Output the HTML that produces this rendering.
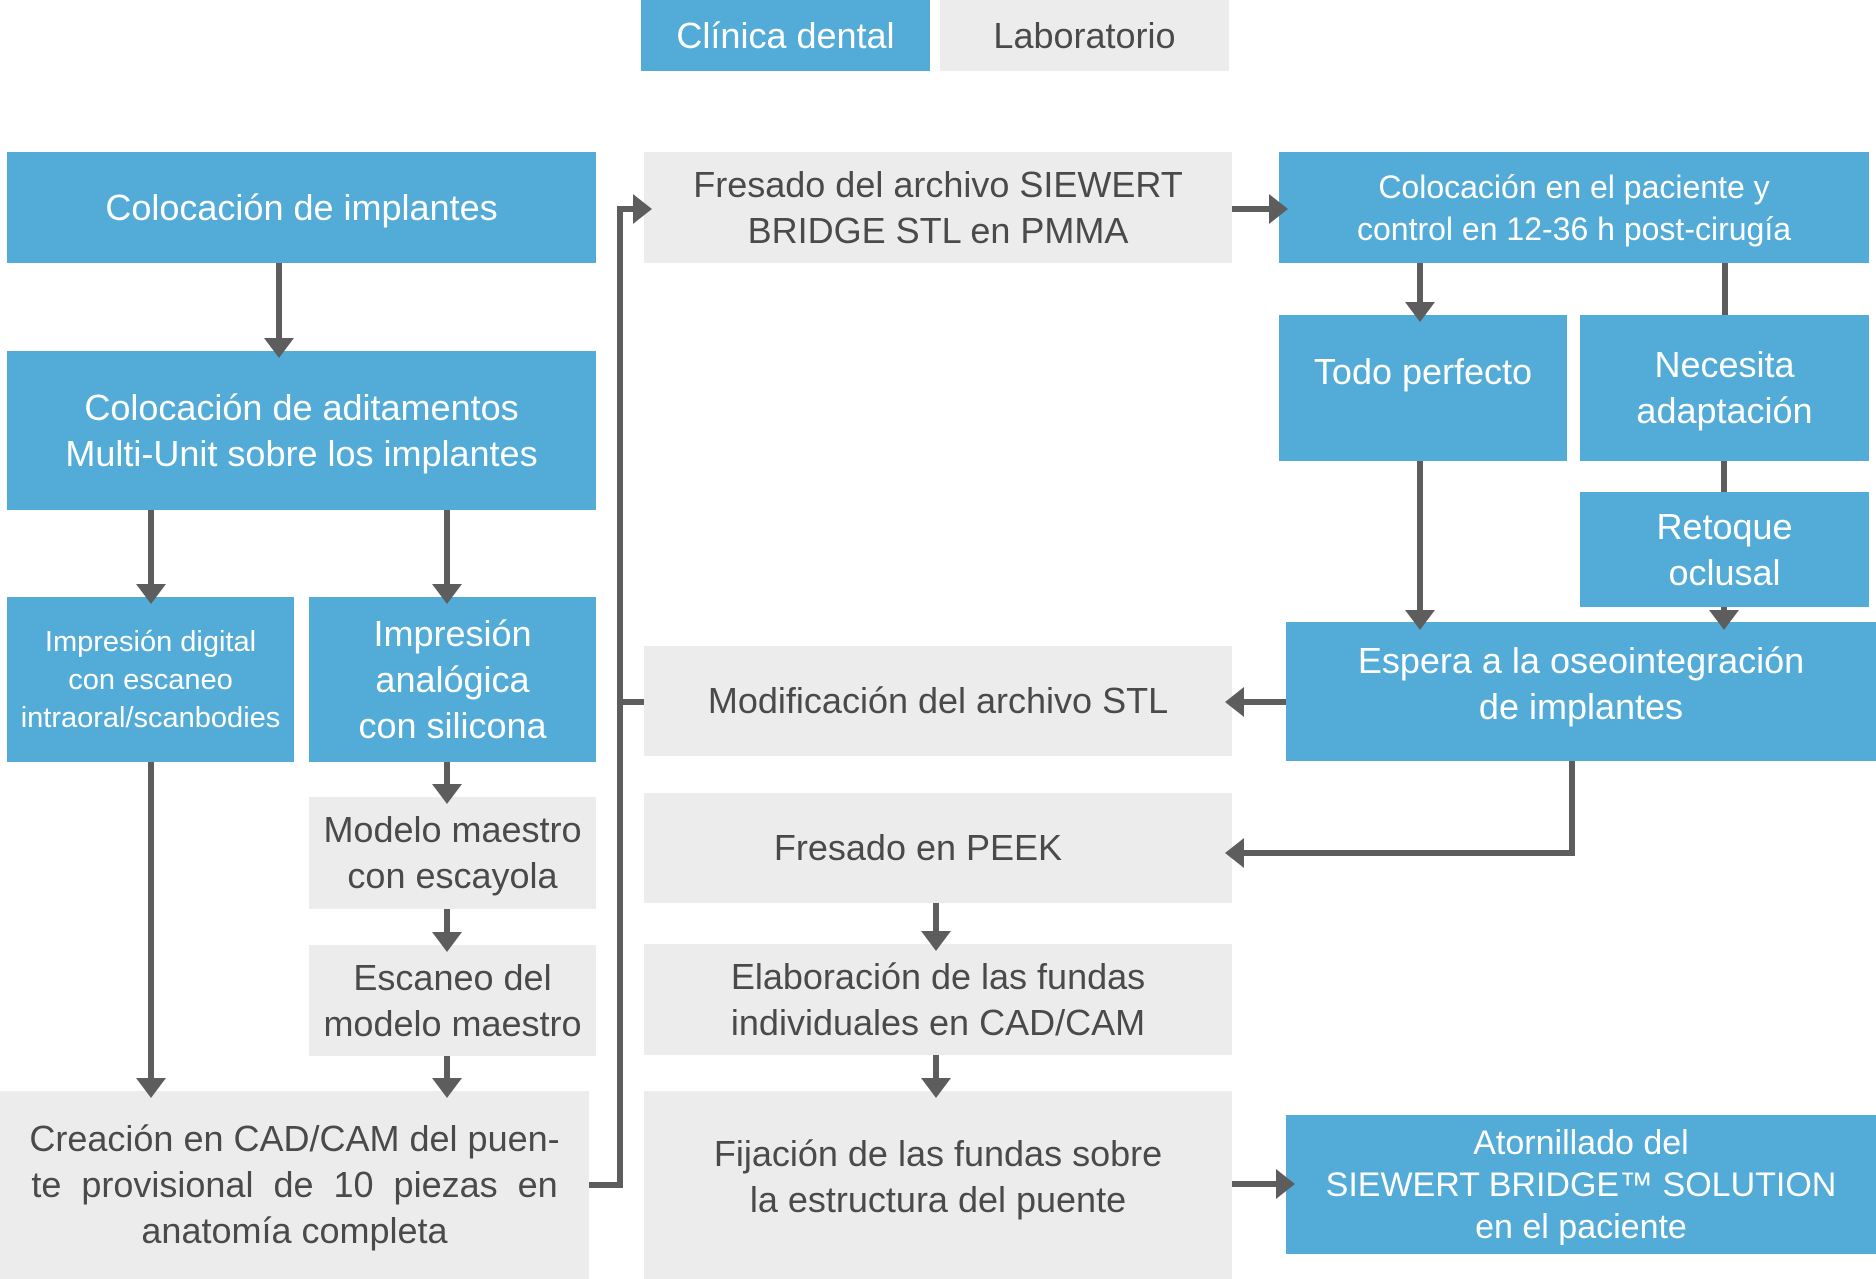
<!DOCTYPE html>
<html><head><meta charset="utf-8"><style>
body{margin:0;width:1876px;height:1279px;background:#fff;position:relative;overflow:hidden;font-family:"Liberation Sans",sans-serif}
.b{position:absolute;display:flex;align-items:center;justify-content:center;text-align:center;box-sizing:border-box;font-size:36px;line-height:46px}
.bl{background:#53abd8;color:#fff}
.g{background:#ececec;color:#4a4a4a}
svg{position:absolute;left:0;top:0}
</style></head><body>
<div class="b bl" style="left:641px;top:0;width:289px;height:71px">Clínica dental</div>
<div class="b g" style="left:940px;top:0;width:289px;height:71px">Laboratorio</div>

<div class="b bl" style="left:7px;top:152px;width:589px;height:111px">Colocación de implantes</div>
<div class="b bl" style="left:7px;top:351px;width:589px;height:159px">Colocación de aditamentos<br>Multi-Unit sobre los implantes</div>
<div class="b bl" style="left:7px;top:597px;width:287px;height:165px;font-size:29px;line-height:38px;white-space:nowrap">Impresión digital<br>con escaneo<br>intraoral/scanbodies</div>
<div class="b bl" style="left:309px;top:597px;width:287px;height:165px">Impresión<br>analógica<br>con silicona</div>
<div class="b g" style="left:309px;top:797px;width:287px;height:112px;white-space:nowrap">Modelo maestro<br>con escayola</div>
<div class="b g" style="left:309px;top:945px;width:287px;height:111px;white-space:nowrap">Escaneo del<br>modelo maestro</div>
<div class="b g" style="left:0;top:1091px;width:589px;height:188px;padding:0 12px">Creación en CAD/CAM del puen-<br>te &nbsp;provisional &nbsp;de &nbsp;10 &nbsp;piezas &nbsp;en<br>anatomía completa</div>

<div class="b g" style="left:644px;top:152px;width:588px;height:111px">Fresado del archivo SIEWERT<br>BRIDGE STL en PMMA</div>
<div class="b g" style="left:644px;top:646px;width:588px;height:110px">Modificación del archivo STL</div>
<div class="b g" style="left:644px;top:793px;width:588px;height:110px;padding-right:40px">Fresado en PEEK</div>
<div class="b g" style="left:644px;top:944px;width:588px;height:111px">Elaboración de las fundas<br>individuales en CAD/CAM</div>
<div class="b g" style="left:644px;top:1091px;width:588px;height:188px;padding-bottom:16px">Fijación de las fundas sobre<br>la estructura del puente</div>

<div class="b bl" style="left:1279px;top:152px;width:590px;height:111px;font-size:32px;line-height:42px">Colocación en el paciente y<br>control en 12-36 h post-cirugía</div>
<div class="b bl" style="left:1279px;top:315px;width:288px;height:146px;align-items:flex-start;padding-top:34px">Todo perfecto</div>
<div class="b bl" style="left:1580px;top:315px;width:289px;height:146px">Necesita<br>adaptación</div>
<div class="b bl" style="left:1580px;top:492px;width:289px;height:115px">Retoque<br>oclusal</div>
<div class="b bl" style="left:1286px;top:622px;width:590px;height:139px;align-items:flex-start;padding-top:16px">Espera a la oseointegración<br>de implantes</div>
<div class="b bl" style="left:1286px;top:1115px;width:590px;height:139px;font-size:34px;line-height:42px">Atornillado del<br>SIEWERT BRIDGE™ SOLUTION<br>en el paciente</div>

<svg width="1876" height="1279" viewBox="0 0 1876 1279">
<g stroke="#5d5d5d" stroke-width="6" fill="none">
<line x1="279" y1="263" x2="279" y2="345"/>
<line x1="151" y1="510" x2="151" y2="590"/>
<line x1="447" y1="510" x2="447" y2="590"/>
<line x1="151" y1="762" x2="151" y2="1085"/>
<line x1="447" y1="762" x2="447" y2="792"/>
<line x1="447" y1="909" x2="447" y2="940"/>
<line x1="447" y1="1056" x2="447" y2="1085"/>
<line x1="1420" y1="263" x2="1420" y2="310"/>
<line x1="1725" y1="263" x2="1725" y2="315"/>
<line x1="1420" y1="461" x2="1420" y2="617"/>
<line x1="1724" y1="461" x2="1724" y2="492"/>
<line x1="1724" y1="607" x2="1724" y2="617"/>
<line x1="936" y1="903" x2="936" y2="938"/>
<line x1="936" y1="1055" x2="936" y2="1085"/>
<polyline points="589,1185 620,1185 620,209 640,209"/>
<line x1="620" y1="702" x2="644" y2="702"/>
<line x1="1232" y1="209" x2="1276" y2="209"/>
<line x1="1232" y1="1184" x2="1283" y2="1184"/>
<line x1="1286" y1="702" x2="1237" y2="702"/>
<polyline points="1572,761 1572,853 1237,853"/>
</g>
<g fill="#5d5d5d">
<polygon points="264,338 294,338 279,358"/>
<polygon points="136,584 166,584 151,604"/>
<polygon points="432,584 462,584 447,604"/>
<polygon points="136,1078 166,1078 151,1098"/>
<polygon points="432,784 462,784 447,804"/>
<polygon points="432,932 462,932 447,952"/>
<polygon points="432,1078 462,1078 447,1098"/>
<polygon points="1405,302 1435,302 1420,322"/>
<polygon points="1405,610 1435,610 1420,630"/>
<polygon points="1709,610 1739,610 1724,630"/>
<polygon points="921,931 951,931 936,951"/>
<polygon points="921,1078 951,1078 936,1098"/>
<polygon points="633,194 633,224 652,209"/>
<polygon points="1269,194 1269,224 1288,209"/>
<polygon points="1276,1169 1276,1199 1295,1184"/>
<polygon points="1244,687 1244,717 1225,702"/>
<polygon points="1244,838 1244,868 1225,853"/>
</g>
</svg>
</body></html>
